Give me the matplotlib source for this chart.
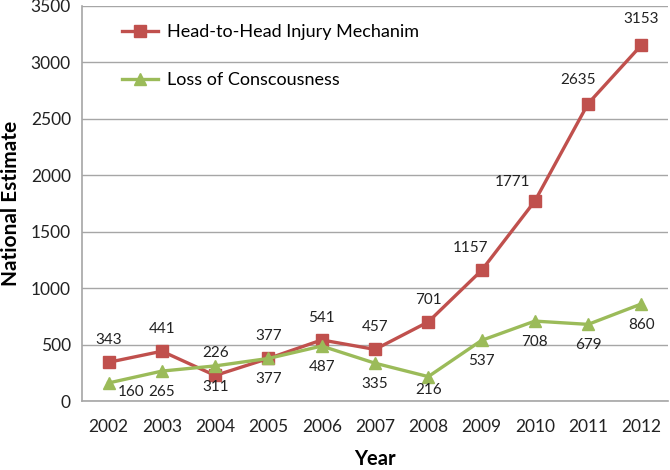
import matplotlib.pyplot as plt

plt.rcParams['font.family'] = ['Lato', 'DejaVu Sans']

years = [2002, 2003, 2004, 2005, 2006, 2007, 2008, 2009, 2010, 2011, 2012]
head_to_head = [343, 441, 226, 377, 541, 457, 701, 1157, 1771, 2635, 3153]
loss_of_consc = [160, 265, 311, 377, 487, 335, 216, 537, 708, 679, 860]

# label nudges in pixels (dx, dy) relative to the default spot
red_nudge = {2009: (-11, 0), 2010: (-22, -3), 2011: (-10, 2), 2012: (0, 4)}
green_nudge = {2002: (22, 12), 2008: (0, 8)}

RED = '#C0504D'
GREEN = '#9BBB59'

fig = plt.figure(figsize=(6.7, 4.7), dpi=100)
ax = fig.add_axes([82 / 670, 1 - 401 / 470, 586 / 670, 395 / 470])

ax.plot(years, head_to_head, color=RED, lw=2.4, marker='s', ms=8,
        label='Head-to-Head Injury Mechanim')
ax.plot(years, loss_of_consc, color=GREEN, lw=2.4, marker='^', ms=8.5,
        label='Loss of Conscousness')

for x, y in zip(years, head_to_head):
    dx, dy = red_nudge.get(x, (0, 0))
    ax.annotate(str(y), (x, y), xytext=(dx, 22 + dy), textcoords='offset pixels',
                ha='center', va='center', fontsize=11, color='#222222')
for x, y in zip(years, loss_of_consc):
    dx, dy = green_nudge.get(x, (0, 0))
    ax.annotate(str(y), (x, y), xytext=(dx, -21 + dy), textcoords='offset pixels',
                ha='center', va='center', fontsize=11, color='#222222')

ax.set_xlim(2001.5, 2012.5)
ax.set_ylim(0, 3500)
ax.set_xticks(years)
ax.set_yticks(range(0, 3501, 500))
ax.grid(axis='y', color='#A6A6A6', lw=1)
ax.set_axisbelow(True)
for s in ['top', 'right']:
    ax.spines[s].set_visible(False)
for s in ['left', 'bottom']:
    ax.spines[s].set_color('#A6A6A6')
    ax.spines[s].set_linewidth(1.2)
ax.tick_params(axis='both', length=0, labelsize=12.5, colors='#222222')
ax.tick_params(axis='x', pad=13)
ax.tick_params(axis='y', pad=8)

ax.set_xlabel('Year', fontsize=14.5, fontweight='bold', labelpad=10)
ax.set_ylabel('National Estimate', fontsize=15, fontweight='bold', labelpad=7)

ax.legend(loc='upper left', bbox_to_anchor=(0.04, 0.995), frameon=False,
          fontsize=13, labelspacing=1.75, handlelength=2.0, handletextpad=0.5)

fig.savefig('out.png', dpi=100)
